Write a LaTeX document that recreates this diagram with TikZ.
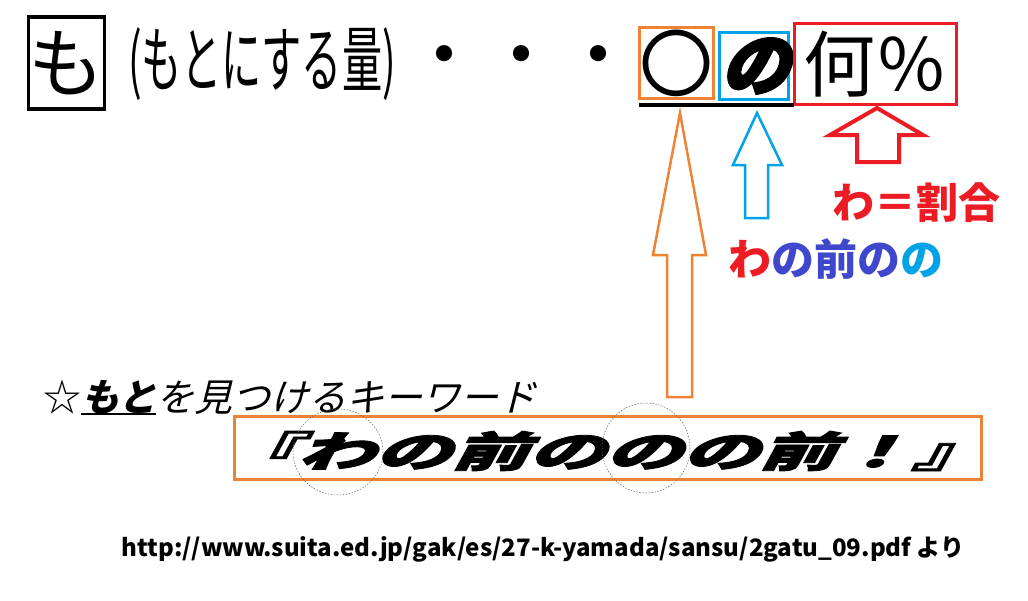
\documentclass[tikz,border=0pt]{standalone}
\usepackage{fontspec}
\newfontfamily\cjk{Noto Sans CJK JP}
\newfontfamily\cjksl{Noto Sans CJK JP}[FakeSlant=0.25]
\newfontfamily\cjkhv{Noto Sans CJK JP}[FakeSlant=0.3, FakeBold=2]
\newfontfamily\cjkhvv{Noto Sans CJK JP}[FakeSlant=0.3, FakeBold=4]
\definecolor{orng}{HTML}{EE8336}
\definecolor{skyb}{HTML}{00A2E8}
\definecolor{redd}{HTML}{ED1C24}
\definecolor{indg}{HTML}{3F48CC}
\newcommand\fsz[1]{\fontsize{#1}{#1}\selectfont}
\begin{document}
\begin{tikzpicture}[x=1pt,y=-1pt,
  txt/.style={inner sep=0pt, outer sep=0pt},
  frame/.style={draw, line width=3pt, inner sep=0pt, outer sep=0pt},
  blockarrow/.style={line width=2.5pt, line join=miter, fill=white},
  ring/.style={draw=black!60, line width=0.5pt, dash pattern=on 1.5pt off 1.5pt}]
\useasboundingbox[fill=white] (0,0) rectangle (1028,600);

% top line
\node[frame, line width=3.5pt, minimum width=75pt, minimum height=92pt, font=\cjk\fsz{76}] (mo) at (66.5,63) {も};
\node[txt, font=\cjk\fsz{72}] (paren) at (262,64) {\resizebox{268pt}{\height}{(もとにする量)}};
\node[txt, font=\cjk\fsz{76}] (d1) at (444,64) {・};
\node[txt, font=\cjk\fsz{76}] (d2) at (521,64) {・};
\node[txt, font=\cjk\fsz{76}] (d3) at (598,64) {・};
\node[frame, draw=orng, minimum width=71pt, minimum height=71pt, font=\cjk\fsz{74}] (maru) at (676,63) {〇};
\node[frame, draw=skyb, minimum width=69pt, minimum height=67pt, font=\cjkhvv\bfseries\fsz{68}] (no) at (754,66) {の};
\node[frame, draw=redd, minimum width=162pt, minimum height=81pt, font=\cjk\fsz{72}] (nan) at (875.5,64) {何％};
\coordinate (ulA) at (639,105);
\coordinate (ulB) at (794,105);
\draw[line width=4pt] (ulA) -- (ulB);

% block arrows
\draw[blockarrow, draw=orng] (680,113) -- (706,255) -- (692,255) -- (692,397) -- (667,397) -- (667,255) -- (653,255) -- cycle;
\draw[blockarrow, draw=skyb] (757,113) -- (782,165) -- (768,165) -- (768,218) -- (745,218) -- (745,165) -- (733,165) -- cycle;
\draw[blockarrow, draw=redd, line width=4pt] (877,108) -- (923,135) -- (899,135) -- (899,162) -- (857,162) -- (857,135) -- (830,135) -- cycle;

% labels
\node[txt, font=\cjk\bfseries\fsz{42}, text=redd] (wari) at (916,203) {わ＝割合};
\node[txt, font=\cjk\bfseries\fsz{43}] (wanomae) at (836,259) {\textcolor{redd}{わ}\textcolor{indg}{の前の}\textcolor{skyb}{の}};

% keyword line
\node[txt, anchor=base west, font=\cjk\fsz{38}] (star) at (43,411) {☆};
\node[txt, anchor=base west, font=\cjksl\bfseries\fsz{38}] (moto) at (star.base east) {もと};
\node[txt, anchor=base west, font=\cjksl\fsz{38}] (kw) at (moto.base east) {を見つけるキーワード};
\draw[line width=2pt] ([yshift=-3pt]moto.base west) -- ([yshift=-3pt]moto.base east);

% keyword box
\node[frame, draw=orng, minimum width=747pt, minimum height=63pt] (kbox) at (608,448) {};
\node[txt, font=\cjkhv\bfseries\fsz{42}] (phrase) at (604,451) {\resizebox{769pt}{\height}{『わの前ののの前！』}};
\draw[ring] (338,452) ellipse [x radius=45, y radius=43];
\draw[ring] (646,448) ellipse [x radius=44, y radius=45];

% source
\node[txt, font=\cjk\bfseries\fsz{24}] (url) at (543,549) {\resizebox{843pt}{\height}{http://www.suita.ed.jp/gak/es/27-k-yamada/sansu/2gatu\_09.pdf より}};
\end{tikzpicture}
\end{document}
